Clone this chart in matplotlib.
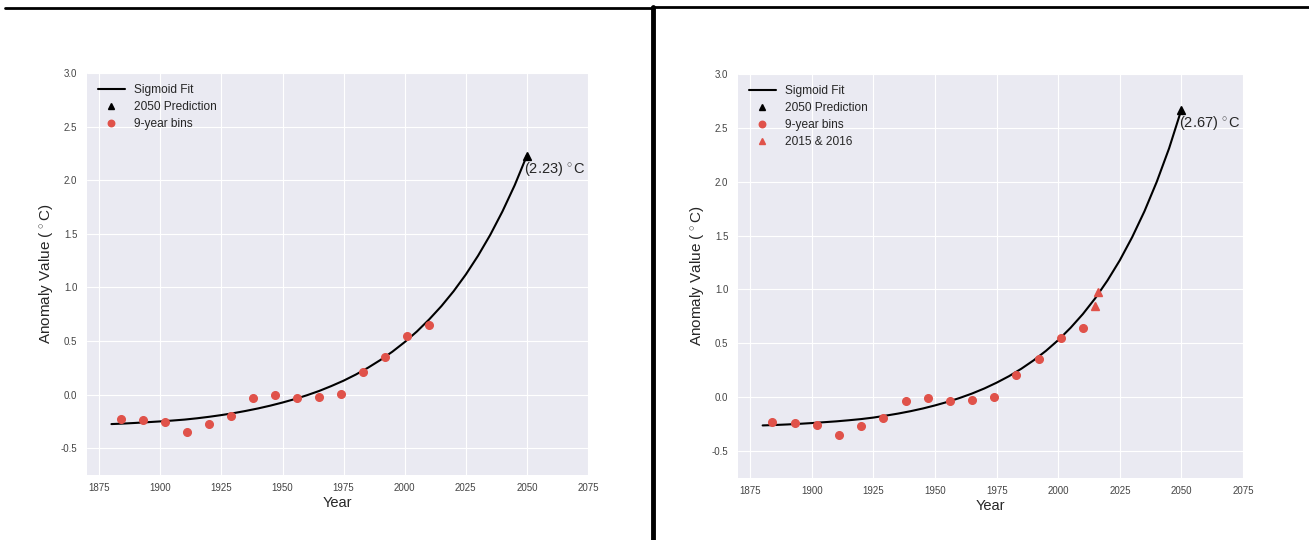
import numpy as np
import matplotlib
matplotlib.use("Agg")
import matplotlib.pyplot as plt
from matplotlib.lines import Line2D

# 9-year bin centres and mean anomalies (same in both panels)
bin_years = [1884, 1893, 1902, 1911, 1920, 1929, 1938, 1947, 1956, 1965, 1974, 1983, 1992, 2001, 2010]
bin_values = [-0.23, -0.235, -0.255, -0.35, -0.27, -0.195, -0.035, -0.005, -0.035, -0.025, 0.005, 0.21, 0.355, 0.55, 0.645]

# recent single years (right panel only)
recent_years = [2015, 2016]
recent_values = [0.85, 0.98]

# sigmoid fit curves, every 5 years
fit_years = [1880, 1885, 1890, 1895, 1900, 1905, 1910, 1915, 1920, 1925, 1930, 1935, 1940, 1945,
             1950, 1955, 1960, 1965, 1970, 1975, 1980, 1985, 1990, 1995, 2000, 2005, 2010, 2015,
             2020, 2025, 2030, 2035, 2040, 2045, 2050]
fit_left = [-0.275, -0.270, -0.264, -0.257, -0.250, -0.242, -0.233, -0.221, -0.207, -0.191, -0.173,
            -0.152, -0.129, -0.103, -0.074, -0.042, -0.006, 0.034, 0.080, 0.130, 0.187, 0.251,
            0.322, 0.401, 0.490, 0.589, 0.701, 0.825, 0.964, 1.120, 1.295, 1.490, 1.709, 1.953, 2.23]
fit_right = [-0.262, -0.258, -0.253, -0.247, -0.240, -0.232, -0.224, -0.214, -0.203, -0.189, -0.171,
             -0.152, -0.130, -0.105, -0.076, -0.044, -0.007, 0.034, 0.081, 0.135, 0.195, 0.264,
             0.342, 0.430, 0.530, 0.644, 0.772, 0.918, 1.084, 1.271, 1.485, 1.726, 2.000, 2.310, 2.67]

pred_year = 2050
x_ticks = [1875, 1900, 1925, 1950, 1975, 2000, 2025, 2050, 2075]
y_ticks = [-0.5, 0.0, 0.5, 1.0, 1.5, 2.0, 2.5, 3.0]

RED = '#e0524a'


def draw_panel(ax, fit_vals, show_recent):
    ax.plot(fit_years, fit_vals, color='black', lw=1.5, label='Sigmoid Fit', zorder=3)
    ax.plot([pred_year], [fit_vals[-1]], linestyle='none', marker='^', color='black',
            markersize=5.5, label='2050 Prediction', zorder=4)
    ax.plot(bin_years, bin_values, linestyle='none', marker='o', color=RED,
            markersize=5.5, label='9-year bins', zorder=4)
    if show_recent:
        ax.plot(recent_years, recent_values, linestyle='none', marker='^', color=RED,
                markersize=5.5, label='2015 & 2016', zorder=4)

    # label for the 2050 value
    ax.annotate('(%.2f)$\\,^\\circ$C' % fit_vals[-1], xy=(pred_year, fit_vals[-1]),
                xytext=(-2, -3), textcoords='offset points', ha='left', va='top',
                fontsize=10.5, color='#262626')

    ax.set_xlim(1870, 2075)
    ax.set_ylim(-0.75, 3.0)
    ax.set_xticks(x_ticks)
    ax.set_yticks(y_ticks)
    ax.tick_params(axis='both', length=0, labelsize=7, colors='#444444')
    ax.tick_params(axis='y', pad=7)
    ax.tick_params(axis='x', pad=6)
    ax.set_xlabel('Year', fontsize=10.5, color='#262626', labelpad=2)
    ax.set_ylabel('Anomaly Value ($\\,^\\circ$C)', fontsize=11, color='#262626', labelpad=4)
    ax.legend(loc='upper left', frameon=False, fontsize=8.6, numpoints=1, markerscale=0.85,
              handlelength=2.2, borderaxespad=0.55, labelspacing=0.42)


def main():
    plt.style.use('seaborn-v0_8-darkgrid')
    plt.rcParams['font.family'] = ['Liberation Sans', 'DejaVu Sans']
    plt.rcParams['mathtext.fontset'] = 'custom'
    plt.rcParams['mathtext.rm'] = 'Liberation Sans'
    plt.rcParams['mathtext.it'] = 'Liberation Sans:italic'
    plt.rcParams['axes.unicode_minus'] = False
    plt.rcParams['axes.facecolor'] = '#eaeaf2'

    fig = plt.figure(figsize=(13.09, 5.40), dpi=100, facecolor='white')
    ax_left = fig.add_axes([87 / 1309, 65 / 540, 501 / 1309, 402 / 540])
    ax_right = fig.add_axes([738 / 1309, 62 / 540, 505 / 1309, 404 / 540])

    draw_panel(ax_left, fit_left, False)
    draw_panel(ax_right, fit_right, True)

    # screenshot frame lines around the two panels
    fig.add_artist(Line2D([5 / 1309, 652 / 1309], [1 - 8 / 540, 1 - 8 / 540],
                          color='black', lw=2, transform=fig.transFigure))
    fig.add_artist(Line2D([653 / 1309, 653 / 1309], [0, 1 - 7 / 540],
                          color='black', lw=3.5, transform=fig.transFigure))
    fig.add_artist(Line2D([652 / 1309, 1], [1 - 7 / 540, 1 - 7 / 540],
                          color='black', lw=2, transform=fig.transFigure))

    fig.savefig('out.png', dpi=100, facecolor='white')


if __name__ == "__main__":
    main()
